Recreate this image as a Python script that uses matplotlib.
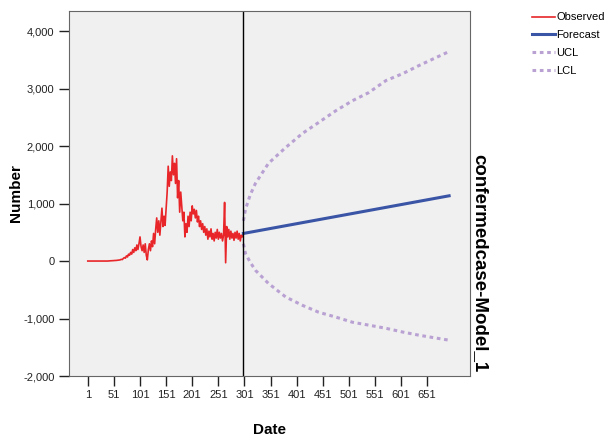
import matplotlib
matplotlib.use("Agg")
import matplotlib.pyplot as plt
from matplotlib.ticker import FuncFormatter

plt.rcParams['font.family'] = ['Liberation Sans', 'DejaVu Sans']

# observed daily series (every 2nd day)
obs_days = list(range(1, 300, 2))
obs_vals = [0, 0, 0, 0, 0, 0, 0, 0, 0, 0,
            0, 0, 0, 0, 0, 0, 0, 0, 0, 0,
            2, 3, 4, 5, 6, 8, 10, 10, 12, 15,
            18, 20, 30, 25, 45, 60, 50, 90, 70, 120,
            100, 150, 120, 200, 150, 230, 180, 280, 200, 300,
            420, 250, 180, 280, 150, 300, 100, 20, 200, 300,
            180, 350, 250, 480, 300, 550, 750, 500, 700, 450,
            680, 920, 600, 780, 620, 900, 1200, 1650, 1300, 1550,
            1400, 1830, 1500, 1700, 1350, 1780, 1100, 1400, 850, 1200,
            950, 700, 850, 420, 650, 500, 780, 600, 850, 700,
            960, 820, 900, 750, 880, 680, 780, 600, 700, 550,
            650, 500, 600, 450, 560, 380, 520, 420, 560, 380,
            480, 350, 500, 400, 550, 380, 500, 400, 480, 350,
            450, 1020, -30, 600, 420, 550, 380, 520, 400, 480,
            360, 500, 400, 520, 380, 480, 350, 450, 420, 480]

fc_days = [299, 693]
fc_vals = [480, 1135]

ci_days = [299, 303, 312, 322, 347, 380, 412, 443, 476, 508, 539, 572, 604, 635, 668, 693]
ucl_vals = [700, 900, 1150, 1350, 1700, 1975, 2220, 2410, 2615, 2790, 2930, 3140, 3260, 3400, 3540, 3645]
lcl_vals = [300, 130, -20, -160, -390, -625, -770, -890, -975, -1065, -1115, -1170, -1235, -1290, -1340, -1377]

x_ticks = [1, 51, 101, 151, 201, 251, 301, 351, 401, 451, 501, 551, 601, 651]
y_ticks = [-2000, -1000, 0, 1000, 2000, 3000, 4000]

fig = plt.figure(figsize=(6.08, 4.38), dpi=100)
W, H = 608, 438
ax = fig.add_axes([69 / W, (H - 376) / H, (470 - 69) / W, (376 - 11) / H])
ax.set_facecolor('#f0f0f0')

ax.plot(obs_days, obs_vals, color='#e8262a', lw=1.2, label='Observed')
ax.plot(fc_days, fc_vals, color='#3b55a6', lw=2.2, label='Forecast')
ax.plot(ci_days, ucl_vals, color='#b9a2d3', lw=2.2, ls=(0, (1.2, 1.2)), label='UCL')
ax.plot(ci_days, lcl_vals, color='#b9a2d3', lw=2.2, ls=(0, (1.2, 1.2)), label='LCL')
ax.axvline(299, color='black', lw=1.0)

ax.set_xlim(-35, 733)
ax.set_ylim(-2000, 4350)
ax.set_xticks(x_ticks)
ax.set_yticks(y_ticks)
ax.yaxis.set_major_formatter(FuncFormatter(lambda v, p: f"{int(v):,}"))
ax.tick_params(axis='both', direction='out', length=7, width=1, labelsize=8, colors='#222222')
ax.tick_params(axis='x', pad=3)
for s in ax.spines.values():
    s.set_color('#666666')

ax.set_xlabel('Date', fontsize=11, fontweight='bold', labelpad=17)
ax.set_ylabel('Number', fontsize=11, fontweight='bold')
ax.yaxis.set_label_coords(-0.115, 0.5)

fig.text(480 / W, 1 - 372 / H, 'confermedcase-Model_1', rotation=-90, fontsize=13.5,
         fontweight='bold', ha='center', va='bottom')

leg = fig.legend(loc='upper left', bbox_to_anchor=(528 / W, 1 - 8 / H), frameon=False,
                 fontsize=8, handlelength=2.0, handletextpad=0.15, labelspacing=0.7,
                 borderaxespad=0)

fig.savefig('out.png', dpi=100)
